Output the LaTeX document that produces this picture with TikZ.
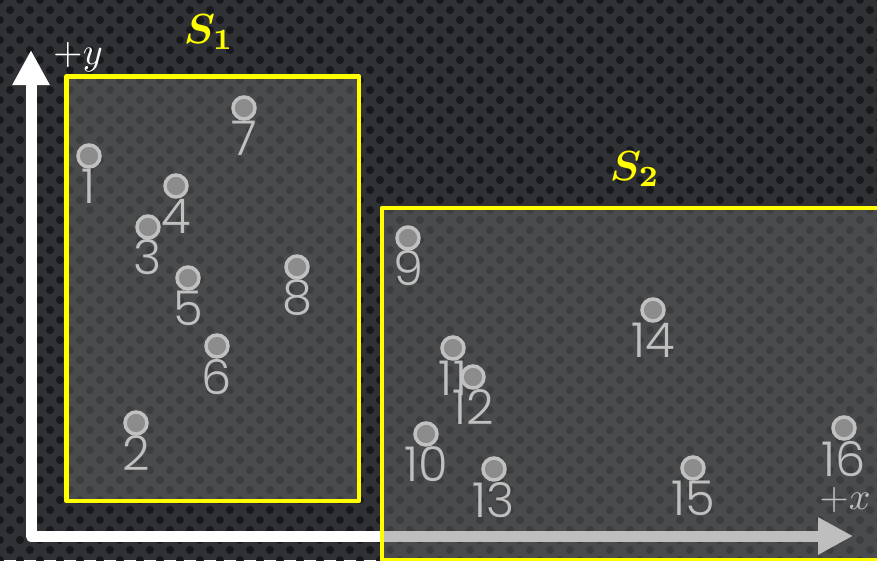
\documentclass[tikz,border=0pt]{standalone}
\usepackage{amsmath,amssymb,bm}
\usepackage{fontspec}
\usepackage{tikz}
\usetikzlibrary{arrows.meta}
\newfontfamily\numfont{Poppins Light}
\definecolor{Carbon}{HTML}{303135}
\definecolor{CarbonDot}{HTML}{17181B}
\definecolor{Veil}{HTML}{6D6D6D}
\definecolor{Signal}{HTML}{FFFF00}
\definecolor{Pebble}{HTML}{8C8C8C}
\definecolor{Ash}{HTML}{C0C0C0}

\begin{document}
\begin{tikzpicture}[
    x=1pt,y=-1pt,
    axis/.style={draw=white,line width=11pt,line join=round,
      {Triangle[length=35pt,width=35pt]}-{Triangle[length=35pt,width=35pt]}},
    setbox/.style={draw=Signal,line width=4.5pt,line join=round,
      fill=Veil,fill opacity=0.44},
    setlbl/.style={text=Signal,scale=4.2,inner sep=0pt},
    axlbl/.style={text=white,scale=3.8,inner sep=0pt},
    pt/.style={circle,draw=Ash,fill=Pebble,line width=3.5pt,minimum size=22pt,
      inner sep=0pt,label distance=0pt},
    numlbl/.style={text=Ash,font=\numfont\fontsize{48}{48}\selectfont,inner sep=0pt}
]
\useasboundingbox (0,0) rectangle (877,560);
\clip (0,0) rectangle (877,560);
% carbon background
\fill[Carbon] (0,0) rectangle (877,560);
\foreach \r in {0,...,57}{
  \foreach \c in {0,...,44}{
    \pgfmathsetmacro\dx{20*\c+10*mod(\r,2)}
    \fill[CarbonDot] (\dx,10*\r) circle (4);
  }
}
% axes
\coordinate (ytip) at (31,50);
\coordinate (origin) at (31,536);
\coordinate (xtip) at (853,536);
\draw[axis] (ytip)--(origin)--(xtip);
\node[axlbl] (ylbl) at (78,57) {$+y$};
\node[axlbl] (xlbl) at (845,500) {$+x$};
% the two sets
\draw[setbox] (66.5,76.5) rectangle (359,501);
\draw[setbox] (382,208) rectangle (895,560);
\node[setlbl] (s1) at (209,32) {$\boldsymbol{S_1}$};
\node[setlbl] (s2) at (635,169) {$\boldsymbol{S_2}$};
% points
\node[pt,label={[numlbl]below:1}] (p1) at (89,156) {};
\node[pt,label={[numlbl]below:2}] (p2) at (136,423) {};
\node[pt,label={[numlbl]below:3}] (p3) at (148,227) {};
\node[pt,label={[numlbl]below:4}] (p4) at (176,186) {};
\node[pt,label={[numlbl]below:5}] (p5) at (188,278) {};
\node[pt,label={[numlbl]below:6}] (p6) at (217,346) {};
\node[pt,label={[numlbl]below:7}] (p7) at (244,108) {};
\node[pt,label={[numlbl]below:8}] (p8) at (297,267) {};
\node[pt,label={[numlbl]below:9}] (p9) at (408,238) {};
\node[pt,label={[numlbl]below:10}] (p10) at (426,434) {};
\node[pt,label={[numlbl]below:11}] (p11) at (453,348) {};
\node[pt,label={[numlbl]below:12}] (p12) at (473,377) {};
\node[pt,label={[numlbl]below:13}] (p13) at (494,469) {};
\node[pt,label={[numlbl]below:14}] (p14) at (653,310) {};
\node[pt,label={[numlbl]below:15}] (p15) at (693,468) {};
\node[pt,label={[numlbl]below:16}] (p16) at (844,428) {};
\end{tikzpicture}
\end{document}
